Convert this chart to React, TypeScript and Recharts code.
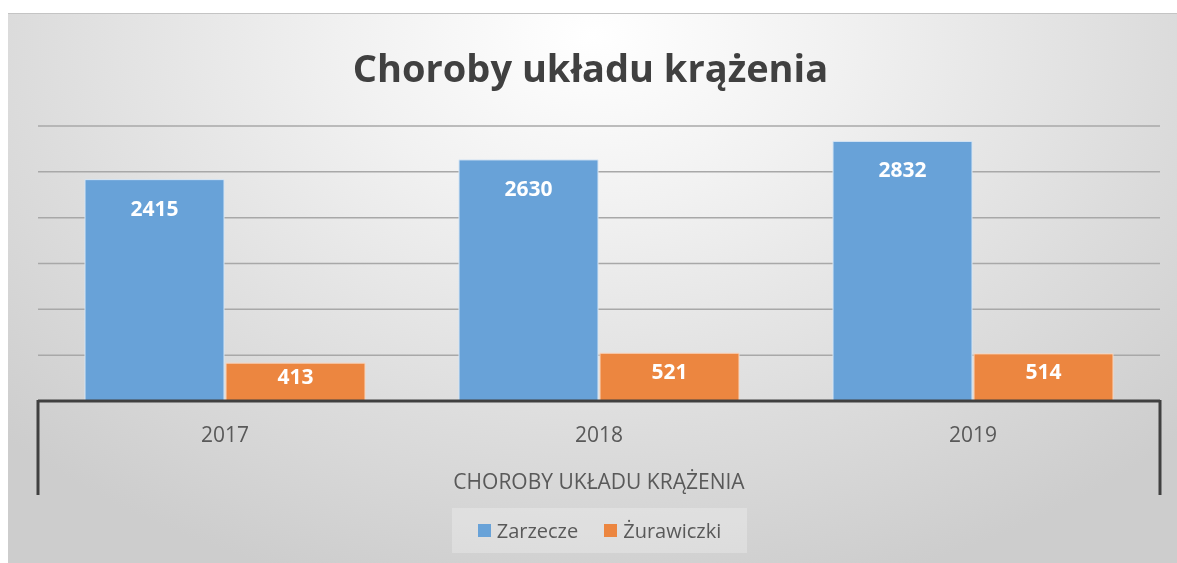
import React from 'react';
import { BarChart, Bar, XAxis, YAxis, CartesianGrid, LabelList } from 'recharts';

// data
const years = ['2017', '2018', '2019'];
const zarzecze = [2415, 2630, 2832];
const zurawiczki = [413, 521, 514];
const yTicks = [0, 500, 1000, 1500, 2000, 2500, 3000];
const seriesNames = ['Zarzecze', 'Żurawiczki'];
const seriesColors = ['#68a2d8', '#ec8640'];

const title = 'Choroby układu krążenia';
const axisTitle = 'CHOROBY UKŁADU KRĄŻENIA';

const data = years.map((year, i) => ({
  year,
  zarzecze: zarzecze[i],
  zurawiczki: zurawiczki[i],
}));

const W = 1169;
const H = 550;
const margin = { top: 113, right: 17, left: 30, bottom: 62 };
const BAND = (W - margin.left - margin.right) / years.length;
const FONT = '"Open Sans", sans-serif';

// category label plus the multi-level separators at both ends
const CategoryTick = (props: any) => {
  const { x, y, payload, index } = props;
  return (
    <g>
      <text
        x={x}
        y={y + 33}
        textAnchor="middle"
        dominantBaseline="central"
        fill="#595959"
        fontSize={21}
        fontFamily={FONT}
      >
        {payload.value}
      </text>
      {index === 0 && (
        <line x1={x - BAND / 2} x2={x - BAND / 2} y1={y - 1} y2={y + 94} stroke="#404040" strokeWidth={3} />
      )}
      {index === years.length - 1 && (
        <line x1={x + BAND / 2} x2={x + BAND / 2} y1={y - 1} y2={y + 94} stroke="#404040" strokeWidth={3} />
      )}
    </g>
  );
};

// white value label near the top of the bar
const ValueLabel = (props: any) => {
  const { x, y, width, height, value } = props;
  const dy = Math.min(28, height / 2 - 6);
  return (
    <text
      x={x + width / 2}
      y={y + dy}
      textAnchor="middle"
      dominantBaseline="central"
      fill="#ffffff"
      fontSize={21}
      fontWeight={700}
      fontFamily={FONT}
    >
      {value}
    </text>
  );
};

export default function App() {
  return (
    <div
      style={{
        position: 'fixed',
        left: 8,
        top: 13,
        right: 0,
        bottom: 0,
        borderTop: '1px solid #c4c4c4',
        boxSizing: 'border-box',
        background:
          'radial-gradient(ellipse 70% 105% at 50% 4%, #ffffff 0%, #f1f1f1 30%, #dcdcdc 70%, #cdcdcd 100%)',
        fontFamily: FONT,
        overflow: 'hidden',
      }}
    >
      <div
        style={{
          position: 'absolute',
          top: 28,
          left: 0,
          width: W - 4,
          textAlign: 'center',
          fontSize: 38,
          fontWeight: 700,
          color: '#404040',
          lineHeight: '50px',
        }}
      >
        {title}
      </div>

      <div style={{ position: 'absolute', top: -1, left: 0 }}>
        <BarChart width={W} height={H} data={data} margin={margin} barCategoryGap={47} barGap={2}>
          <CartesianGrid horizontal vertical={false} stroke="#a8a8a8" strokeWidth={1.5} />
          <YAxis hide domain={[0, 3000]} ticks={yTicks} />
          <XAxis
            dataKey="year"
            height={100}
            tickLine={false}
            tickSize={0}
            tickMargin={0}
            axisLine={{ stroke: '#404040', strokeWidth: 3 }}
            tick={<CategoryTick />}
            interval={0}
            label={{
              value: axisTitle,
              position: 'insideBottom',
              offset: 12,
              fill: '#595959',
              fontSize: 21,
              fontFamily: FONT,
            }}
          />
          <Bar dataKey="zarzecze" fill={seriesColors[0]} stroke="#d5e5f4" strokeWidth={1} isAnimationActive={false}>
            <LabelList dataKey="zarzecze" content={<ValueLabel />} />
          </Bar>
          <Bar dataKey="zurawiczki" fill={seriesColors[1]} stroke="#f8d6be" strokeWidth={1} isAnimationActive={false}>
            <LabelList dataKey="zurawiczki" content={<ValueLabel />} />
          </Bar>
        </BarChart>
      </div>

      <div
        style={{
          position: 'absolute',
          left: 444,
          top: 494,
          width: 295,
          height: 45,
          background: 'rgba(255,255,255,0.25)',
          display: 'flex',
          alignItems: 'center',
          justifyContent: 'center',
          gap: 26,
          fontSize: 20,
          color: '#595959',
        }}
      >
        {seriesNames.map((name, i) => (
          <div key={name} style={{ display: 'flex', alignItems: 'center', gap: 6 }}>
            <span style={{ width: 13, height: 13, background: seriesColors[i], display: 'inline-block' }} />
            <span>{name}</span>
          </div>
        ))}
      </div>
    </div>
  );
}
